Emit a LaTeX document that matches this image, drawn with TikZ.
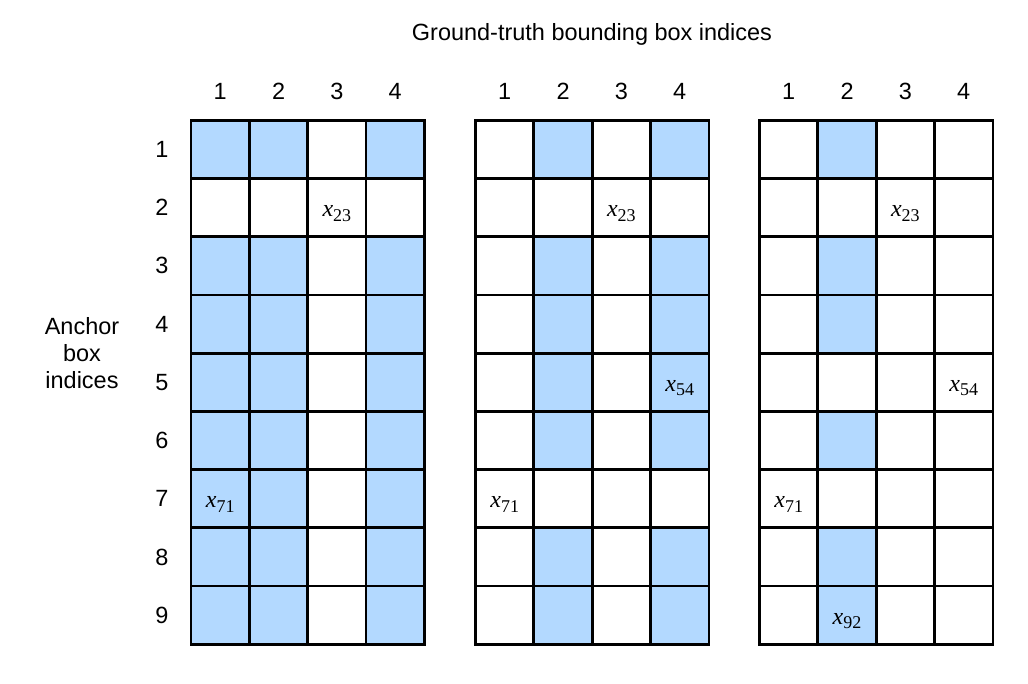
\documentclass[tikz,border=0pt]{standalone}
\usepackage{fontspec}
\setmainfont{Liberation Sans}
\newfontfamily\timesfont{Liberation Serif}
\usepackage{tikz}

\definecolor{cellblue}{RGB}{179,217,255}

\tikzset{
  lbl/.style={font=\fontsize{17.6}{20.2}\selectfont, inner sep=0pt},
  cellmark/.style={font=\timesfont\fontsize{18}{20}\selectfont, inner sep=0pt},
  gridline/.style={line width=2.1pt, line cap=rect}
}

\newcommand{\cw}{58.35}
\newcommand{\ch}{58.22}
% italic x with an upright index below
\newcommand{\xsub}[1]{\textit{x}\raisebox{-0.42ex}{\fontsize{13.5}{14}\selectfont#1}}

\begin{document}
\begin{tikzpicture}[x=0.75pt, y=-0.75pt]
    \useasboundingbox (0,0) rectangle (1028,684);

    % shaded cells
    \foreach \r in {1,3,4,5,6,7,8,9}
        \foreach \c in {1,2,4}
            \fill[cellblue] ({191+(\c-1)*\cw},{120.3+(\r-1)*\ch}) rectangle ++(\cw,\ch);
    \foreach \r in {1,3,4,5,6,8,9}
        \foreach \c in {2,4}
            \fill[cellblue] ({475.5+(\c-1)*\cw},{120.3+(\r-1)*\ch}) rectangle ++(\cw,\ch);
    \foreach \r in {1,3,4,6,8,9}
        \fill[cellblue] ({759.5+\cw},{120.3+(\r-1)*\ch}) rectangle ++(\cw,\ch);

    % grids and column indices
    \foreach \gx/\g in {191/a, 475.5/b, 759.5/c} {
        \foreach \i in {0,...,4}
            \draw[gridline] ({\gx+\i*\cw},120.3) -- ++(0,{9*\ch});
        \foreach \j in {0,...,9}
            \draw[gridline] (\gx,{120.3+\j*\ch}) -- ++({4*\cw},0);
        \foreach \i in {1,...,4}
            \node[lbl] (\g-col\i) at ({\gx+(\i-0.5)*\cw},91.7) {\i};
    }

    % row indices
    \foreach \j in {1,...,9}
        \node[lbl] (row\j) at (162,{120.3+(\j-0.5)*\ch}) {\j};

    \node[lbl] (title) at (592,34) {Ground-truth bounding box indices};
    \node[lbl, align=center] (anchors) at (82,353) {Anchor\\box\\indices};

    % marked entries
    \node[cellmark] (a23) at ({191+2.5*\cw},{120.3+1.6*\ch}) {\xsub{23}};
    \node[cellmark] (a71) at ({191+0.5*\cw},{120.3+6.6*\ch}) {\xsub{71}};
    \node[cellmark] (b23) at ({475.5+2.5*\cw},{120.3+1.6*\ch}) {\xsub{23}};
    \node[cellmark] (b54) at ({475.5+3.5*\cw},{120.3+4.6*\ch}) {\xsub{54}};
    \node[cellmark] (b71) at ({475.5+0.5*\cw},{120.3+6.6*\ch}) {\xsub{71}};
    \node[cellmark] (c23) at ({759.5+2.5*\cw},{120.3+1.6*\ch}) {\xsub{23}};
    \node[cellmark] (c54) at ({759.5+3.5*\cw},{120.3+4.6*\ch}) {\xsub{54}};
    \node[cellmark] (c71) at ({759.5+0.5*\cw},{120.3+6.6*\ch}) {\xsub{71}};
    \node[cellmark] (c92) at ({759.5+1.5*\cw},{120.3+8.6*\ch}) {\xsub{92}};
\end{tikzpicture}
\end{document}
